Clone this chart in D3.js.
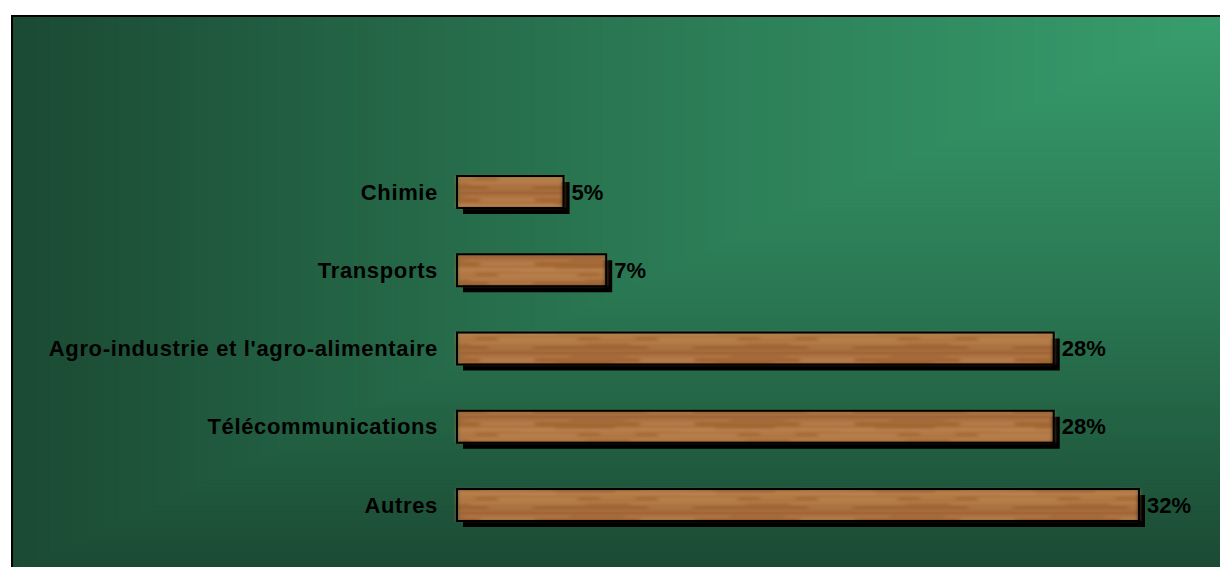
<!DOCTYPE html>
<html>
<head>
<meta charset="utf-8">
<script src="https://cdn.jsdelivr.net/npm/d3@7"></script>
<style>
  html, body { margin: 0; padding: 0; background: #ffffff; }
  svg { display: block; }
</style>
</head>
<body>
<svg id="chart" width="1220" height="567"></svg>
<script>
// ---- data ----
const categories = ["Chimie", "Transports", "Agro-industrie et l'agro-alimentaire", "Télécommunications", "Autres"];
const values = [5, 7, 28, 28, 32];
const valueLabels = ["5%", "7%", "28%", "28%", "32%"];

const W = 1220, H = 567;
const svg = d3.select("#chart");
const defs = svg.append("defs");

// ---- panel with "from corner" box gradient (light at top-right) ----
const panel = { x: 12, y: 16, w: W - 12 + 2, h: H - 16 + 2 };
const bgColor = d3.scaleLinear().domain([0, 0.5, 1]).range(["#389e6d", "#2a7853", "#1b4a33"]).interpolate(d3.interpolateRgb);
const steps = d3.range(1, 0, -1 / 160);
const bg = svg.append("g");
bg.selectAll("rect").data(steps).join("rect")
  .attr("x", s => panel.x + panel.w * (1 - s))
  .attr("y", panel.y)
  .attr("width", s => panel.w * s + 1)
  .attr("height", s => panel.h * s + 1)
  .attr("fill", s => bgColor(s));
svg.append("path")
  .attr("d", `M${panel.x},${H + 2} L${panel.x},${panel.y} L${W + 2},${panel.y}`)
  .attr("fill", "none").attr("stroke", "#000").attr("stroke-width", 2);

// ---- wood texture ----
const wood = defs.append("linearGradient").attr("id", "woodGrad")
  .attr("x1", 0).attr("y1", 0).attr("x2", 0).attr("y2", 1);
[["0%", "#95592d"], ["12%", "#b07544"], ["28%", "#a1642f"], ["42%", "#bb8350"],
 ["58%", "#a36834"], ["72%", "#b87f4b"], ["86%", "#9c6231"], ["100%", "#ad7443"]]
  .forEach(([o, c]) => wood.append("stop").attr("offset", o).attr("stop-color", c));

const pat = defs.append("pattern").attr("id", "woodPat")
  .attr("patternUnits", "userSpaceOnUse").attr("width", 160).attr("height", 32);
pat.append("rect").attr("width", 160).attr("height", 32).attr("fill", "url(#woodGrad)");
const streaks = [
  [0, 6, 55, 4, "#c99263", 0.45], [75, 10, 60, 3, "#8a4f24", 0.3], [18, 17, 80, 4, "#cd9a68", 0.35],
  [105, 23, 45, 3, "#8f5528", 0.3], [8, 26, 45, 3, "#c48f5e", 0.35], [90, 3, 55, 3, "#915a2d", 0.3],
  [40, 13, 35, 3, "#be8856", 0.35], [120, 16, 35, 4, "#ca9664", 0.3]
];
pat.selectAll("rect.s").data(streaks).join("rect").attr("class", "s")
  .attr("x", d => d[0]).attr("y", d => d[1]).attr("width", d => d[2]).attr("height", d => d[3])
  .attr("fill", d => d[4]).attr("opacity", d => d[5]);
const blur = defs.append("filter").attr("id", "soft");
blur.append("feGaussianBlur").attr("stdDeviation", "2 0.8");

// ---- scales ----
const x = d3.scaleLinear().domain([0, 32]).range([457, 1139]);
const y = d3.scalePoint().domain(categories).range([192, 505]);
const barH = 32, shadow = 6;

const data = categories.map((c, i) => ({ c, v: values[i], label: valueLabels[i] }));
const g = svg.append("g");

// shadows
g.selectAll("rect.shadow").data(data).join("rect").attr("class", "shadow")
  .attr("x", d => x(0) + shadow).attr("y", d => y(d.c) - barH / 2 + shadow)
  .attr("width", d => x(d.v) - x(0)).attr("height", barH)
  .attr("fill", "#000");

// bars (textured fill, then outline)
g.selectAll("rect.bar").data(data).join("rect").attr("class", "bar")
  .attr("x", d => x(0)).attr("y", d => y(d.c) - barH / 2)
  .attr("width", d => x(d.v) - x(0)).attr("height", barH)
  .attr("fill", "url(#woodPat)").attr("filter", "url(#soft)");
g.selectAll("rect.outline").data(data).join("rect").attr("class", "outline")
  .attr("x", d => x(0)).attr("y", d => y(d.c) - barH / 2)
  .attr("width", d => x(d.v) - x(0)).attr("height", barH)
  .attr("fill", "none")
  .attr("stroke", "#000").attr("stroke-width", 2);

const font = "'Liberation Sans', Arial, sans-serif";
// category labels
g.selectAll("text.cat").data(data).join("text").attr("class", "cat")
  .attr("x", 438).attr("y", d => y(d.c))
  .attr("dy", "0.35em")
  .attr("text-anchor", "end")
  .attr("font-family", font)
  .attr("font-weight", "bold").attr("font-size", 22)
  .attr("letter-spacing", 0.65)
  .attr("fill", "#000")
  .text(d => d.c);

// value labels
g.selectAll("text.val").data(data).join("text").attr("class", "val")
  .attr("x", d => x(d.v) + 8).attr("y", d => y(d.c))
  .attr("dy", "0.35em")
  .attr("font-family", font)
  .attr("font-weight", "bold").attr("font-size", 22)
  .attr("fill", "#000")
  .text(d => d.label);
</script>
</body>
</html>
